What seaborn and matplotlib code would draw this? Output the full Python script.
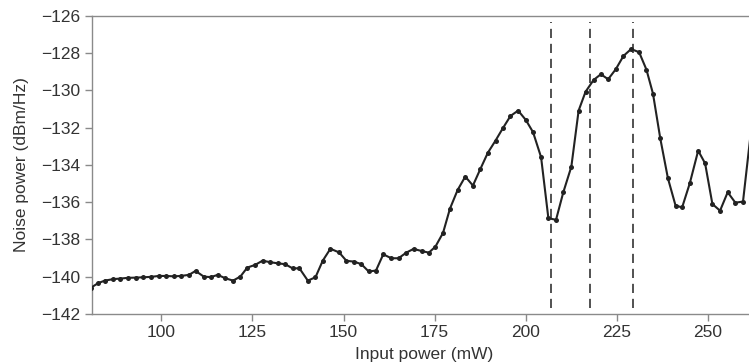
import numpy as np
import pandas as pd
import matplotlib
matplotlib.use("Agg")
import matplotlib.pyplot as plt
import seaborn as sns

# Measured noise power versus pump input power
input_power_mw = [
    80.8, 82.6, 84.5, 86.8, 88.8, 90.9, 93.0, 95.1, 97.1, 99.3,
    101.3, 103.4, 105.4, 107.6, 109.4, 111.7, 113.6, 115.5, 117.5, 119.7,
    121.7, 123.6, 125.7, 127.8, 129.8, 131.9, 134.0, 136.0, 137.9, 140.2,
    142.3, 144.3, 146.4, 148.8, 150.8, 152.9, 154.9, 156.9, 158.9, 160.9,
    163.1, 165.1, 167.2, 169.2, 171.4, 173.4, 175.2, 177.3, 179.2, 181.3,
    183.4, 185.5, 187.5, 189.6, 191.7, 193.7, 195.8, 197.9, 200.0, 202.0,
    204.2, 206.2, 208.3, 210.3, 212.5, 214.5, 216.4, 218.6, 220.6, 222.6,
    224.7, 226.8, 228.9, 231.1, 233.1, 234.9, 236.9, 239.0, 241.1, 242.9,
    245.0, 247.3, 249.2, 251.2, 253.3, 255.4, 257.5, 259.6, 261.7, 263.8,
]
noise_power_dbm_hz = [
    -140.58, -140.35, -140.21, -140.13, -140.10, -140.06, -140.05, -140.03, -140.01, -139.96,
    -139.96, -139.98, -139.96, -139.90, -139.69, -140.00, -140.02, -139.90, -140.08, -140.21,
    -139.99, -139.51, -139.37, -139.14, -139.22, -139.28, -139.33, -139.55, -139.55, -140.21,
    -140.03, -139.14, -138.50, -138.70, -139.15, -139.19, -139.33, -139.72, -139.67, -138.80,
    -139.01, -139.01, -138.71, -138.51, -138.62, -138.71, -138.39, -137.65, -136.35, -135.35,
    -134.63, -135.11, -134.24, -133.35, -132.70, -132.04, -131.38, -131.09, -131.59, -132.25,
    -133.59, -136.86, -136.95, -135.47, -134.10, -131.09, -130.08, -129.45, -129.14, -129.41,
    -128.87, -128.16, -127.79, -127.96, -128.89, -130.18, -132.58, -134.72, -136.19, -136.28,
    -134.99, -133.24, -133.92, -136.10, -136.46, -135.47, -136.03, -135.97, -132.34, -130.60,
]

# Marked pump levels
marker_powers = [207.0, 217.6, 229.3]

x_ticks = [100, 125, 150, 175, 200, 225, 250]
y_ticks = [-142, -140, -138, -136, -134, -132, -130, -128, -126]

sns.set_style("ticks")
plt.rcParams["font.family"] = ["Liberation Sans", "DejaVu Sans"]

df = pd.DataFrame({"power": input_power_mw, "noise": noise_power_dbm_hz})

fig = plt.figure(figsize=(7.49, 3.63), dpi=100)
ax = fig.add_axes([0.1224, 0.135, 0.8776 + 0.01, 0.8218])

for p in marker_powers:
    ax.axvline(p, ymin=0.02, ymax=0.98, color="#333333", lw=1.2,
               ls=(0, (5.5, 3.5)), zorder=1)

sns.lineplot(data=df, x="power", y="noise", ax=ax, color="#222222",
             lw=1.5, marker="o", markersize=3.6, markeredgewidth=0,
             zorder=3)

ax.set_xlim(80.9, 263.3)
ax.set_ylim(-142, -126)
ax.set_xticks(x_ticks)
ax.set_yticks(y_ticks)
ax.set_xlabel("Input power (mW)", fontsize=12.5, color="#333333", labelpad=5)
ax.set_ylabel("Noise power (dBm/Hz)", fontsize=12.5, color="#333333", labelpad=9)

for side in ["left", "bottom", "top"]:
    ax.spines[side].set_color("#8a8a8a")
    ax.spines[side].set_linewidth(1.0)
ax.spines["right"].set_visible(False)
ax.tick_params(axis="both", direction="out", length=5, width=1.0,
               color="#8a8a8a", labelsize=12.5, labelcolor="#333333", pad=3)

fig.savefig("out.png", dpi=100)
